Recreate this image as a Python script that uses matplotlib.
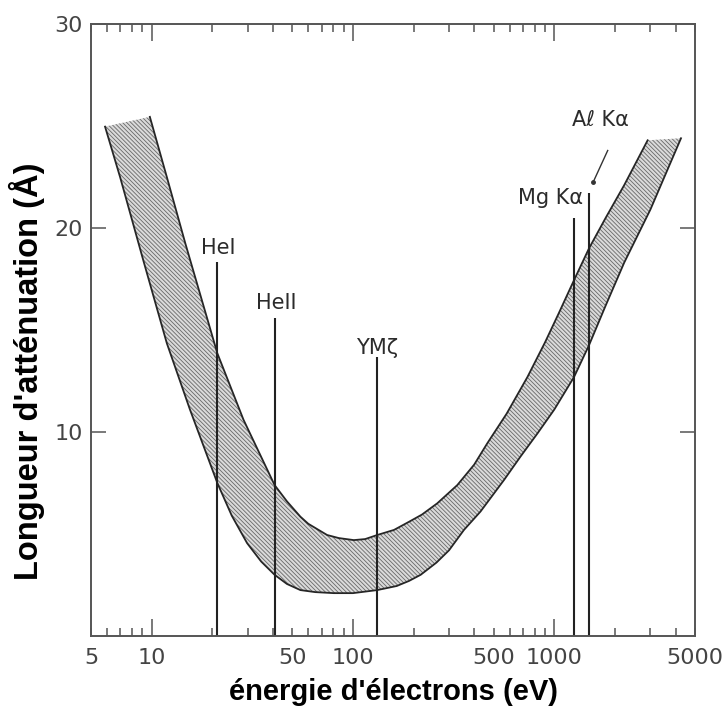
import numpy as np
import matplotlib
matplotlib.use("Agg")
import matplotlib.pyplot as plt
from matplotlib.ticker import FixedLocator, FixedFormatter

# bande "courbe universelle" : bord bas/droite et bord haut/gauche (E en eV, longueur en Å)
lower_e = [5.87, 6.97, 9.1, 11.9, 15.5, 21.2, 25, 29.8, 35, 40.8, 47, 54.8, 65, 80.3, 100, 132, 165, 190,
           217, 260, 300, 356, 430, 563, 680, 825, 1000, 1254, 1487, 1800, 2224, 3000, 4260]
lower_l = [24.97, 22.5, 18.4, 14.35, 11.1, 7.5, 5.9, 4.55, 3.65, 3.0, 2.55, 2.25, 2.15, 2.1, 2.1, 2.25, 2.45, 2.7,
           3.0, 3.6, 4.2, 5.2, 6.1, 7.65, 8.8, 9.93, 11.1, 12.7, 14.25, 16.2, 18.3, 20.9, 24.4]
upper_e = [9.8, 11.9, 14.7, 21.2, 28.6, 40.8, 47, 54.8, 60, 74.4, 85, 101, 115, 132, 160, 190, 220, 262,
           330, 400, 465, 580, 736, 900, 1050, 1254, 1487, 1800, 2224, 2908]
upper_l = [25.45, 22.5, 19.25, 13.86, 10.6, 7.4, 6.6, 5.85, 5.5, 4.95, 4.8, 4.7, 4.75, 4.95, 5.2, 5.6, 5.95, 6.5,
           7.4, 8.4, 9.45, 10.9, 12.7, 14.4, 15.8, 17.45, 19.0, 20.5, 22.1, 24.3]

# raies d'excitation
src_names = ["HeI", "HeII", "YMζ", "Mg Kα", "Aℓ Kα"]
src_e = [21.2, 40.8, 132.3, 1253.6, 1486.6]
src_top = [18.35, 15.57, 13.7, 20.5, 21.7]
lab_e = [21.5, 41.5, 132.3, 960, 1700]
lab_l = [19.0, 16.3, 14.1, 21.45, 25.3]
leader_e = [1842, 1560]
leader_l = [23.8, 22.25]

xt_major = [10, 100, 1000]
xt_minor = [5, 6, 7, 8, 9, 20, 30, 40, 50, 60, 70, 80, 90,
            200, 300, 400, 500, 600, 700, 800, 900, 2000, 3000, 4000, 5000]
xt_minor_lab = [str(v) if v in (5, 50, 500, 5000) else "" for v in xt_minor]
yt = [10, 20, 30]

plt.rcParams["hatch.linewidth"] = 0.6

fig = plt.figure(figsize=(7.27, 7.09), dpi=100)
ax = fig.add_axes([0.1252, 0.1030, 0.8308, 0.8631])
ax.set_xscale("log")
ax.set_xlim(5, 5000)
ax.set_ylim(0, 30)

# bande hachurée
xs = np.concatenate((lower_e, upper_e[::-1]))
ys = np.concatenate((lower_l, upper_l[::-1]))
ax.fill(xs, ys, facecolor="#dadada", edgecolor="#686868", hatch="\\" * 8, linewidth=0)
ax.plot(lower_e, lower_l, color="#262626", lw=1.3)
ax.plot(upper_e, upper_l, color="#262626", lw=1.3)

# raies verticales
ax.vlines(src_e, 0, src_top, color="#222222", lw=1.5)
for name, x, y in zip(src_names, lab_e, lab_l):
    ax.text(x, y, name, ha="center", va="center", fontsize=15, color="#2b2b2b")
ax.plot(leader_e, leader_l, color="#333333", lw=1.0)
ax.plot(leader_e[-1], leader_l[-1], "o", color="#333333", ms=2.5)

# axes
for s in ax.spines.values():
    s.set_color("#555555")
    s.set_linewidth(1.4)
ax.xaxis.set_major_locator(FixedLocator(xt_major))
ax.xaxis.set_major_formatter(FixedFormatter([str(v) for v in xt_major]))
ax.xaxis.set_minor_locator(FixedLocator(xt_minor))
ax.xaxis.set_minor_formatter(FixedFormatter(xt_minor_lab))
ax.set_yticks(yt)
ax.set_yticklabels([str(v) for v in yt])
ax.tick_params(axis="x", which="major", direction="in", length=12, width=1.1,
               top=True, color="#555555", labelsize=16, labelcolor="#444444", pad=9)
ax.tick_params(axis="x", which="minor", direction="in", length=6, width=1.1,
               top=True, color="#555555", labelsize=16, labelcolor="#444444", pad=9)
ax.tick_params(axis="y", which="major", direction="in", length=11, width=1.1,
               right=True, color="#555555", labelsize=16, labelcolor="#444444", pad=6)

ax.set_xlabel("énergie d'électrons (eV)", fontsize=21, fontweight="bold",
              family="Liberation Sans", color="black")
ax.set_ylabel("Longueur d'atténuation (Å)", fontsize=23.5, fontweight="bold",
              family="Liberation Sans", color="black")
ax.xaxis.set_label_coords(0.5, -0.068)
ax.yaxis.set_label_coords(-0.076, 0.433)

fig.savefig("out.png", dpi=100)
